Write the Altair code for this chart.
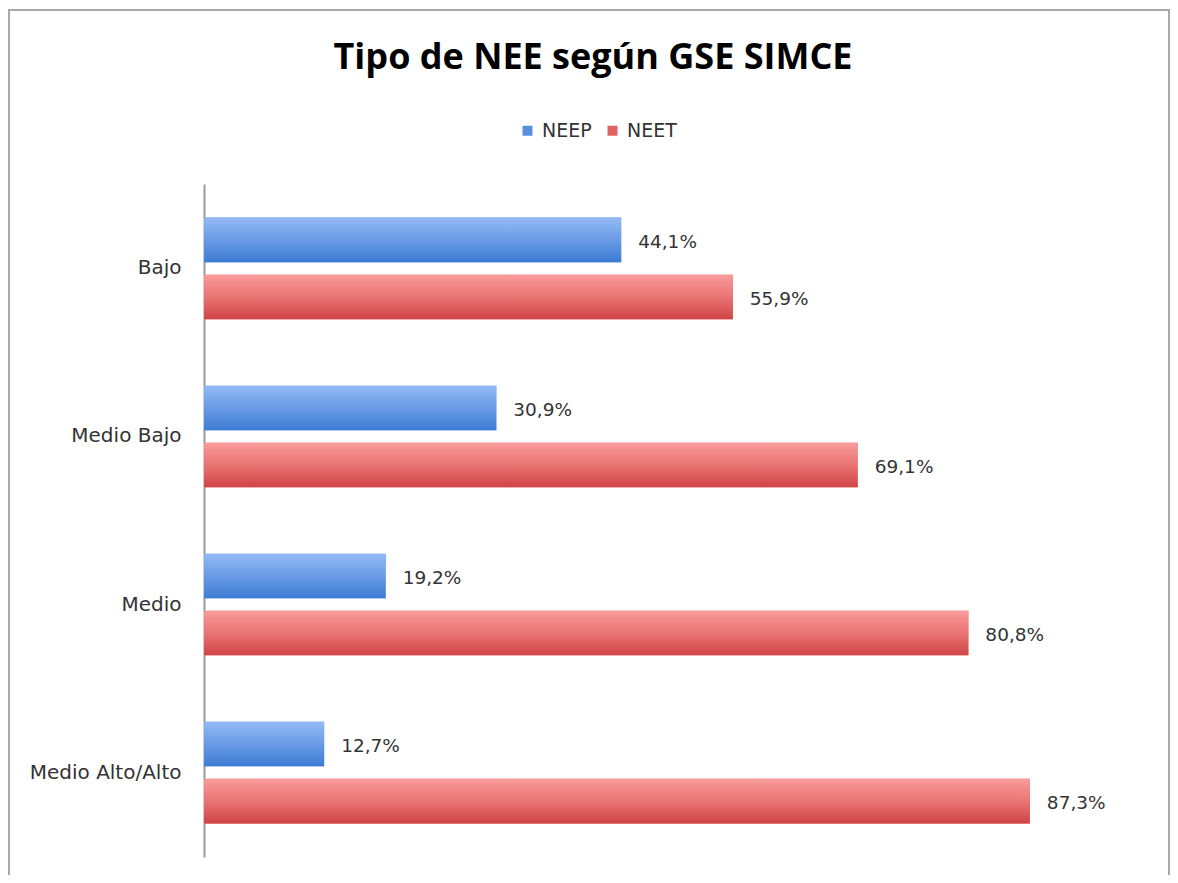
import altair as alt
import pandas as pd

categories = ["Bajo", "Medio Bajo", "Medio", "Medio Alto/Alto"]
series = ["NEEP", "NEET"]
neep = [44.1, 30.9, 19.2, 12.7]
neet = [55.9, 69.1, 80.8, 87.3]

rows = []
for c, a, b in zip(categories, neep, neet):
    rows.append({"cat": c, "series": "NEEP", "value": a})
    rows.append({"cat": c, "series": "NEET", "value": b})
df = pd.DataFrame(rows)
df["label"] = df["value"].map(lambda v: f"{v:.1f}".replace(".", ",") + "%")

W, H = 946, 673
FONT = "DejaVu Sans"

y_enc = alt.Y("cat:N", sort=categories, title=None,
              scale=alt.Scale(paddingInner=0.395, paddingOuter=0.2),
              axis=alt.Axis(ticks=False, labelPadding=23, labelFontSize=20,
                            labelFont=FONT, labelColor="#333333",
                            domainColor="#9a9a9a", domainWidth=2, grid=False))
yoff = alt.YOffset("series:N", sort=series, scale=alt.Scale(paddingInner=0.22, paddingOuter=0))
x_enc = alt.X("value:Q", scale=alt.Scale(domain=[0, 100]), axis=None)

base = alt.Chart(df).encode(y=y_enc, yOffset=yoff, x=x_enc)

legend_bars = base.mark_bar().encode(
    color=alt.Color("series:N", sort=series,
                    scale=alt.Scale(domain=series, range=["#5a8fe0", "#e06262"]),
                    legend=alt.Legend(title=None, orient="none", direction="horizontal",
                                      legendX=314, legendY=-63, symbolType="square",
                                      symbolSize=100, labelFont=FONT, labelFontSize=19,
                                      labelColor="#333333", columnPadding=11,
                                      labelOffset=5, symbolStrokeWidth=0))
)

blue_grad = alt.Gradient(gradient="linear", x1=0, x2=0, y1=0, y2=1,
                         stops=[alt.GradientStop(color="#93baf4", offset=0),
                                alt.GradientStop(color="#6a9be6", offset=0.5),
                                alt.GradientStop(color="#3c7bd3", offset=1)])
red_grad = alt.Gradient(gradient="linear", x1=0, x2=0, y1=0, y2=1,
                        stops=[alt.GradientStop(color="#f99c9c", offset=0),
                               alt.GradientStop(color="#eb7474", offset=0.5),
                               alt.GradientStop(color="#cf4444", offset=1)])

bars_p = base.mark_bar(color=blue_grad).transform_filter(alt.datum.series == "NEEP")
bars_t = base.mark_bar(color=red_grad).transform_filter(alt.datum.series == "NEET")

labels = base.mark_text(align="left", baseline="middle", dx=17, dy=2,
                        font=FONT, fontSize=18.5, color="#333333").encode(text="label:N")

frame = alt.Chart(pd.DataFrame({"k": [0]})).mark_rect(
    fill=None, stroke="#a8a8a8", strokeWidth=2
).encode(x=alt.value(-195), x2=alt.value(965), y=alt.value(-174), y2=alt.value(720))

chart = alt.layer(frame, legend_bars, bars_p, bars_t, labels).properties(
    width=W, height=H,
    title=alt.TitleParams("Tipo de NEE según GSE SIMCE", font="Open Sans", fontSize=36,
                          fontWeight="bold", color="#000000", anchor="middle",
                          baseline="alphabetic", dx=-84, offset=-96),
    autosize=alt.AutoSizeParams(type="none"),
    padding={"left": 196, "top": 176, "right": 20, "bottom": 18},
).configure(background="white").configure_view(strokeWidth=0)

chart.save("out.html", embed_options={"renderer": "svg", "actions": False})
